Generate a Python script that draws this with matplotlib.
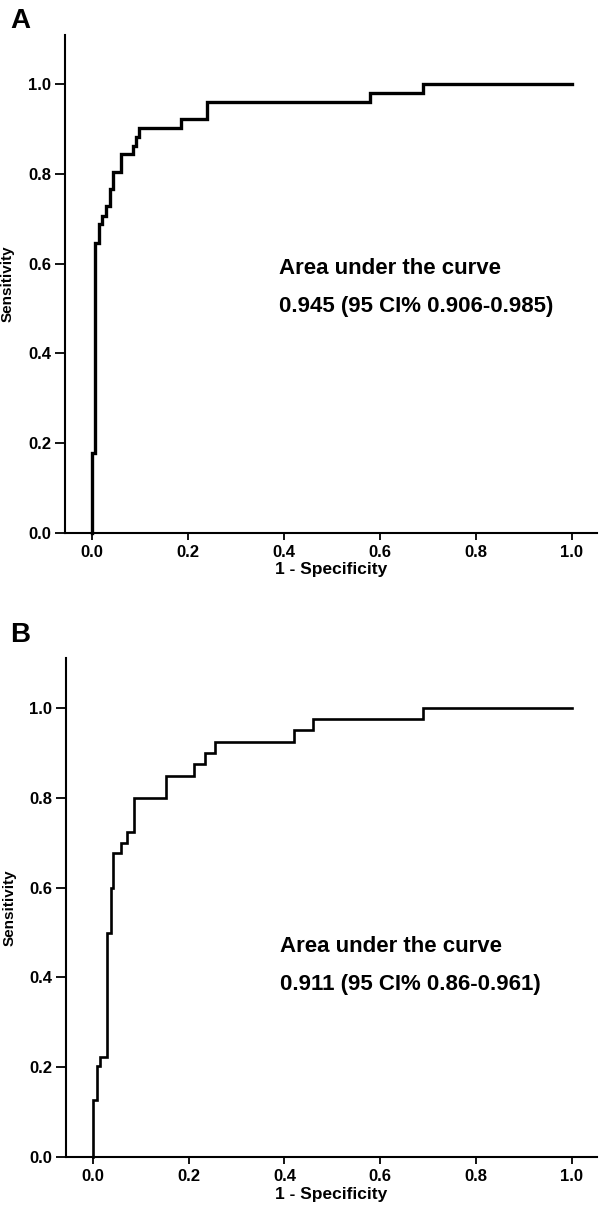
import matplotlib

matplotlib.use("Agg")
import matplotlib.pyplot as plt

plt.rcParams["font.family"] = ["Liberation Sans", "DejaVu Sans"]
plt.rcParams["font.weight"] = "bold"

# panel A: ROC corner points (1 - specificity, sensitivity)
fpr_a = [0.0, 0.0, 0.007, 0.015, 0.022, 0.029, 0.038, 0.045, 0.060, 0.085,
         0.092, 0.099, 0.185, 0.240, 0.58, 0.69, 1.0]
tpr_a = [0.0, 0.177, 0.647, 0.689, 0.707, 0.728, 0.766, 0.804, 0.844, 0.862,
         0.882, 0.902, 0.922, 0.961, 0.980, 1.0, 1.0]
auc_text_a = ["Area under the curve", "0.945 (95 CI% 0.906-0.985)"]
auc_y_a = [0.59, 0.505]

# panel B
fpr_b = [0.0, 0.0, 0.008, 0.015, 0.029, 0.038, 0.042, 0.058, 0.072, 0.086,
         0.152, 0.212, 0.234, 0.256, 0.42, 0.46, 0.69, 1.0]
tpr_b = [0.0, 0.127, 0.202, 0.224, 0.498, 0.600, 0.676, 0.700, 0.724, 0.799,
         0.849, 0.875, 0.899, 0.923, 0.95, 0.975, 1.0, 1.0]
auc_text_b = ["Area under the curve", "0.911 (95 CI% 0.86-0.961)"]
auc_y_b = [0.47, 0.385]

ticks = [0.0, 0.2, 0.4, 0.6, 0.8, 1.0]
tick_labels = ["0.0", "0.2", "0.4", "0.6", "0.8", "1.0"]


def draw_roc(ax, fpr, tpr, text_lines, text_y, lw):
    ax.plot(fpr, tpr, drawstyle="steps-post", color="black", lw=lw,
            solid_joinstyle="miter", clip_on=False)
    ax.set_xlim(-0.056, 1.052)
    ax.set_ylim(0, 1.11)
    for side in ("top", "right"):
        ax.spines[side].set_visible(False)
    for side in ("left", "bottom"):
        ax.spines[side].set_linewidth(1.5)
    ax.set_xticks(ticks, tick_labels)
    ax.set_yticks(ticks, tick_labels)
    ax.tick_params(axis="x", length=5, width=1.3, pad=3.5, labelsize=12)
    ax.tick_params(axis="y", length=7, width=1.3, pad=3, labelsize=12)
    ax.set_xlabel("1 - Specificity", fontsize=12.5, fontweight="bold", labelpad=2)
    ax.set_ylabel("Sensitivity", fontsize=11, fontweight="bold")
    ax.yaxis.set_label_coords(-0.094, 0.5)
    for line, y in zip(text_lines, text_y):
        ax.text(0.39, y, line, fontsize=16, fontweight="bold", va="center")


fig = plt.figure(figsize=(6, 12.09), dpi=100)
ax_a = fig.add_axes([65 / 600, 1 - 532.7 / 1209, 531.7 / 600, 497.7 / 1209])
ax_b = fig.add_axes([66 / 600, 1 - 1157.3 / 1209, 530.7 / 600, 499 / 1209])

draw_roc(ax_a, fpr_a, tpr_a, auc_text_a, auc_y_a, 2.4)
draw_roc(ax_b, fpr_b, tpr_b, auc_text_b, auc_y_b, 1.9)

fig.text(10 / 600, 1 - 28 / 1209, "A", fontsize=20, fontweight="bold", va="baseline")
fig.text(10 / 600, 1 - 642 / 1209, "B", fontsize=20, fontweight="bold", va="baseline")

fig.savefig("out.png", dpi=100)
